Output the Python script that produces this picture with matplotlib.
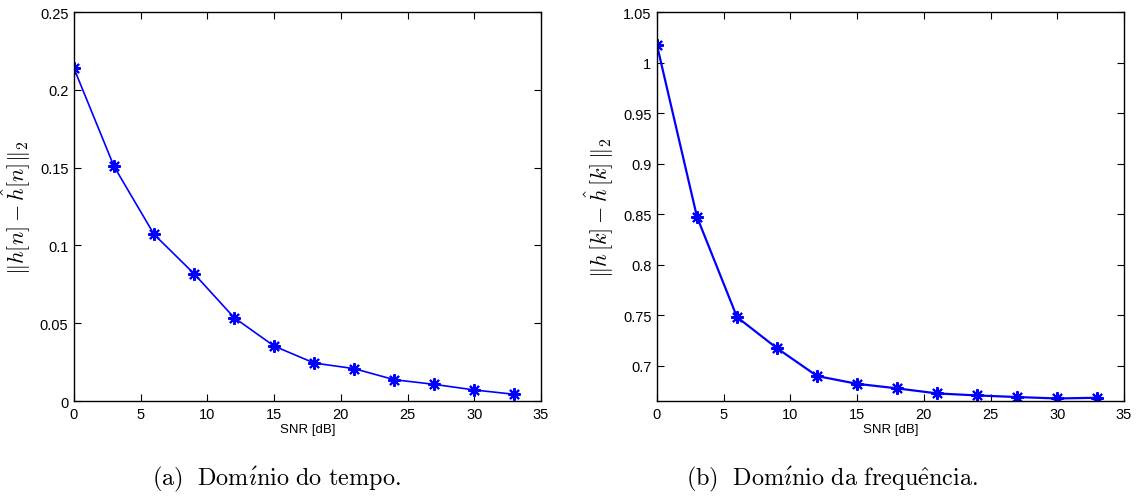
import numpy as np
import matplotlib
matplotlib.use("Agg")
import matplotlib.pyplot as plt
from matplotlib.ticker import FuncFormatter

plt.rcParams['mathtext.fontset'] = 'cm'
plt.rcParams['font.family'] = ['Liberation Sans', 'DejaVu Sans']

# SNR grid (dB)
snr_db = [0, 3, 6, 9, 12, 15, 18, 21, 24, 27, 30, 33]

# error norm, time domain
err_time = [0.2138, 0.1508, 0.1071, 0.0818, 0.0536, 0.0353,
            0.0244, 0.0208, 0.0137, 0.0107, 0.0071, 0.0043]

# error norm, frequency domain
err_freq = [1.0172, 0.8472, 0.7480, 0.7172, 0.6897, 0.6820,
            0.6775, 0.6725, 0.6705, 0.6689, 0.6675, 0.6682]

x_ticks = [0, 5, 10, 15, 20, 25, 30, 35]
yticks_time = [0, 0.05, 0.1, 0.15, 0.2, 0.25]
yticks_freq = [0.7, 0.75, 0.8, 0.85, 0.9, 0.95, 1.0, 1.05]

ylabel_time = r'$\|h[n]-\hat{h}[n]\|_2$'
ylabel_freq = r'$\|h\,[k]-\hat{h}\,[k]\,\|_2$'
caption_time = r'$\mathrm{(a)\ \ Dom}\acute{\imath}\mathrm{nio\ do\ tempo.}$'
caption_freq = r'$\mathrm{(b)\ \ Dom}\acute{\imath}\mathrm{nio\ da\ frequ\hat{e}ncia.}$'

fig = plt.figure(figsize=(11.38, 5.02), dpi=100)
ax1 = fig.add_axes([0.0650, 0.1992, 0.4104, 0.7749])
ax2 = fig.add_axes([0.5773, 0.1992, 0.4104, 0.7749])

fmt = FuncFormatter(lambda v, p: '%g' % round(v, 4))

for ax, y, yt, ylim, ylab, lw in [
    (ax1, err_time, yticks_time, (0, 0.25), ylabel_time, 1.2),
    (ax2, err_freq, yticks_freq, (0.665, 1.05), ylabel_freq, 1.6),
]:
    # MATLAB-style asterisk marker (8 spokes)
    ax.plot(snr_db, y, color='#0000ff', linewidth=lw, marker=(8, 2, 0),
            markersize=9, markeredgewidth=1.5)
    ax.set_xlim(0, 35)
    ax.set_ylim(*ylim)
    ax.set_xticks(x_ticks)
    ax.set_yticks(yt)
    ax.yaxis.set_major_formatter(fmt)
    ax.tick_params(direction='in', length=5, top=True, right=True,
                   labelsize=10.5, pad=4)
    ax.set_xlabel('SNR [dB]', fontsize=9.5, labelpad=2,
                  family=['Liberation Sans Narrow', 'Liberation Sans'])
    ax.set_ylabel(ylab, fontsize=16, labelpad=5)
    for s in ax.spines.values():
        s.set_linewidth(1.0)

fig.text(0.243, 0.044, caption_time, ha='center', va='center', fontsize=17.5)
fig.text(0.731, 0.044, caption_freq, ha='center', va='center', fontsize=17.5)

fig.savefig('out.png', dpi=100)
